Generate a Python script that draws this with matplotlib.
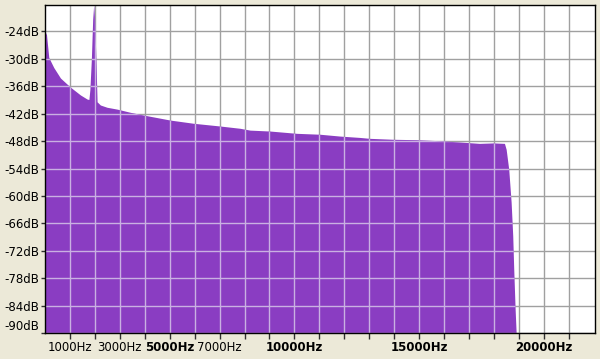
import matplotlib
matplotlib.use("Agg")
import matplotlib.pyplot as plt
import numpy as np

# --- Spectrum ---
freq_hz = [0, 40, 80, 172, 372, 640, 1040, 1440, 1708, 1780, 1820, 1880, 1932, 1972,
           2012, 2068, 2108, 2240, 2508, 2908, 3440, 3972, 5040, 5972, 7040, 7840,
           8240, 9040, 10108, 11040, 11840, 12640, 13040, 13960, 14908, 15960, 16908,
           17440, 18000, 18440, 18508, 18612, 18708, 18772, 18812, 18868, 18908]
level_db = [-24.2, -24.3, -24.8, -29.8, -32.0, -34.3, -36.3, -38.0, -38.9, -39.0, -36.8,
            -30.0, -21.4, -18.3, -21.4, -31.5, -39.5, -40.2, -40.7, -41.1, -41.8, -42.4,
            -43.5, -44.2, -44.8, -45.3, -45.7, -45.9, -46.4, -46.6, -47.0, -47.3, -47.5,
            -47.7, -47.8, -48.05, -48.4, -48.6, -48.5, -48.6, -49.9, -54.3, -61.5, -68.8,
            -76.1, -84.9, -90.0]

x_ticks = list(range(1000, 22000, 1000))
x_labels = {1000: "1000Hz", 3000: "3000Hz", 5000: "5000Hz", 7000: "7000Hz",
            10000: "10000Hz", 15000: "15000Hz", 20000: "20000Hz"}
bold_labels = ["5000Hz", "10000Hz", "15000Hz", "20000Hz"]
y_ticks = [-24, -30, -36, -42, -48, -54, -60, -66, -72, -78, -84, -90]

bg = "#ece9d8"
purple = "#8a3dc2"

fig = plt.figure(figsize=(6.0, 3.59), dpi=100, facecolor=bg)
ax = fig.add_axes([45 / 600, 1 - 333 / 359, 550 / 600, 328 / 359])
ax.set_facecolor("white")
ax.set_xlim(0, 22050)
ax.set_ylim(-90, -18.2)

# gray grid over the white part
ax.vlines(x_ticks, -90, -18.2, color="#a0a0a0", lw=1, zorder=1)
ax.hlines(y_ticks, 0, 22050, color="#a0a0a0", lw=1, zorder=1)

poly = ax.fill_between(freq_hz, level_db, -100, color=purple, lw=0, zorder=2)

# lighter grid on top of the purple
vl = ax.vlines(x_ticks, -90, -18.2, color="#c9b0e2", lw=1, zorder=3)
hl = ax.hlines(y_ticks, 0, 22050, color="#c9b0e2", lw=1, zorder=3)
for lc in (vl, hl):
    lc.set_clip_path(poly.get_paths()[0], ax.transData)

for s in ax.spines.values():
    s.set_color("black")
    s.set_linewidth(1)
    s.set_zorder(5)

ax.set_xticks(x_ticks)
ax.set_xticklabels([x_labels.get(t, "") for t in x_ticks])
ax.tick_params(axis="x", length=4, width=1, pad=1.5, labelsize=8.5, color="#303030")
for lab in ax.get_xticklabels():
    if lab.get_text() in bold_labels:
        lab.set_fontweight("bold")

ax.set_yticks(y_ticks)
ax.set_yticklabels([f"{t}dB" for t in y_ticks])
ax.tick_params(axis="y", length=3, width=1, pad=1, labelsize=8.5, color="#303030")
ax.get_yticklabels()[-1].set_va("bottom")

fig.savefig("out.png", dpi=100, facecolor=bg)
